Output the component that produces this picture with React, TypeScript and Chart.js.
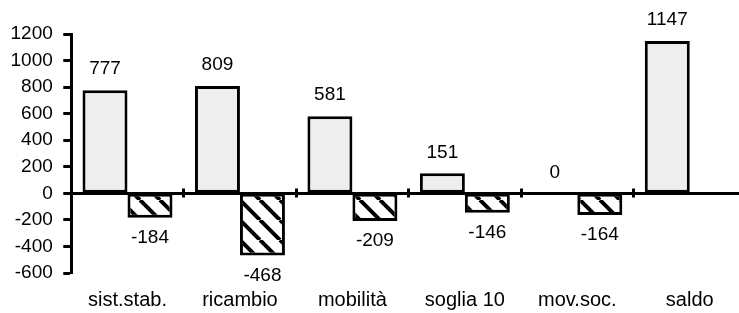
import React, { useEffect, useRef } from "react";
import { Chart, registerables } from "chart.js";

Chart.register(...registerables);

const categories = ["sist.stab.", "ricambio", "mobilità", "soglia 10", "mov.soc.", "saldo"];
const positiveValues = [777, 809, 581, 151, 0, 1147];
const negativeValues: (number | null)[] = [-184, -468, -209, -146, -164, null];
const yMin = -600;
const yMax = 1200;
const yStep = 200;

const FONT = "'Liberation Sans', Arial, sans-serif";

function makeHatch(): CanvasPattern | string {
  const s = 20;
  const c = document.createElement("canvas");
  c.width = s;
  c.height = s;
  const g = c.getContext("2d");
  if (!g) return "#ffffff";
  g.fillStyle = "#ffffff";
  g.fillRect(0, 0, s, s);
  g.strokeStyle = "#000000";
  g.lineWidth = 4;
  g.beginPath();
  g.moveTo(-s, 0);
  g.lineTo(0, s);
  g.moveTo(0, 0);
  g.lineTo(s, s);
  g.moveTo(s, 0);
  g.lineTo(2 * s, s);
  g.stroke();
  const p = g.createPattern(c, "repeat");
  return p || "#ffffff";
}

const valueLabels = {
  id: "valueLabels",
  afterDatasetsDraw(chart: any) {
    const ctx = chart.ctx;
    ctx.save();
    ctx.font = `19px ${FONT}`;
    ctx.fillStyle = "#000000";
    ctx.textAlign = "center";
    ctx.textBaseline = "middle";
    chart.data.datasets.forEach((ds: any, di: number) => {
      const meta = chart.getDatasetMeta(di);
      meta.data.forEach((el: any, i: number) => {
        const v = ds.data[i];
        if (v === null || v === undefined) return;
        const y = v >= 0 ? el.y - 21 : el.y + 20;
        ctx.fillText(String(v), el.x, y);
      });
    });
    ctx.restore();
  },
};

export default function App() {
  const ref = useRef<HTMLCanvasElement | null>(null);

  useEffect(() => {
    document.documentElement.style.overflow = "hidden";
    document.body.style.overflow = "hidden";
    if (!ref.current) return;
    const hatch = makeHatch();
    const chart = new Chart(ref.current, {
      type: "bar",
      data: {
        labels: categories,
        datasets: [
          {
            data: positiveValues,
            backgroundColor: "#eeeeee",
            borderColor: "#000000",
            borderWidth: 3,
            borderSkipped: false,
            categoryPercentage: 0.8,
            barPercentage: 1.0,
          },
          {
            data: negativeValues,
            backgroundColor: hatch as any,
            borderColor: "#000000",
            borderWidth: 3,
            borderSkipped: false,
            categoryPercentage: 0.8,
            barPercentage: 1.0,
          },
        ],
      },
      options: {
        animation: false,
        responsive: false,
        layout: { padding: { left: 0, right: 2, top: 34, bottom: 0 } },
        plugins: {
          legend: { display: false },
          tooltip: { enabled: false },
        },
        scales: {
          x: {
            type: "category",
            position: "bottom",
            grid: { display: false, drawTicks: false },
            border: { display: false },
            ticks: {
              color: "#000000",
              font: { family: FONT, size: 20 },
              padding: 15.5,
              maxRotation: 0,
              autoSkip: false,
            },
          },
          x2: {
            type: "category",
            position: { y: 0 } as any,
            offset: true,
            z: 1,
            grid: {
              offset: true,
              drawOnChartArea: false,
              tickLength: 2.5,
              tickWidth: 3,
              tickColor: "#000000",
            },
            border: { display: true, color: "#000000", width: 3 },
            ticks: { display: false },
          },
          x3: {
            type: "category",
            position: { y: 0 } as any,
            offset: true,
            z: 1,
            grid: {
              offset: true,
              drawOnChartArea: false,
              tickLength: -6.5,
              tickWidth: 3,
              tickColor: "#000000",
            },
            border: { display: true, color: "#000000", width: 3 },
            ticks: { display: false },
          },
          y: {
            min: yMin,
            max: yMax,
            grid: {
              drawOnChartArea: false,
              tickLength: 8,
              tickWidth: 3,
              tickColor: "#000000",
            },
            border: { display: true, color: "#000000", width: 3 },
            ticks: {
              stepSize: yStep,
              autoSkip: false,
              color: "#000000",
              font: { family: FONT, size: 19 },
              padding: 10.5,
              callback: (v: any) => String(v),
            },
          },
        },
      },
      plugins: [valueLabels],
    });
    return () => chart.destroy();
  }, []);

  return (
    <div style={{ position: "absolute", left: 0, top: 0, width: 748, height: 328 }}>
      <canvas ref={ref} width={748} height={328} style={{ display: "block" }} />
    </div>
  );
}
